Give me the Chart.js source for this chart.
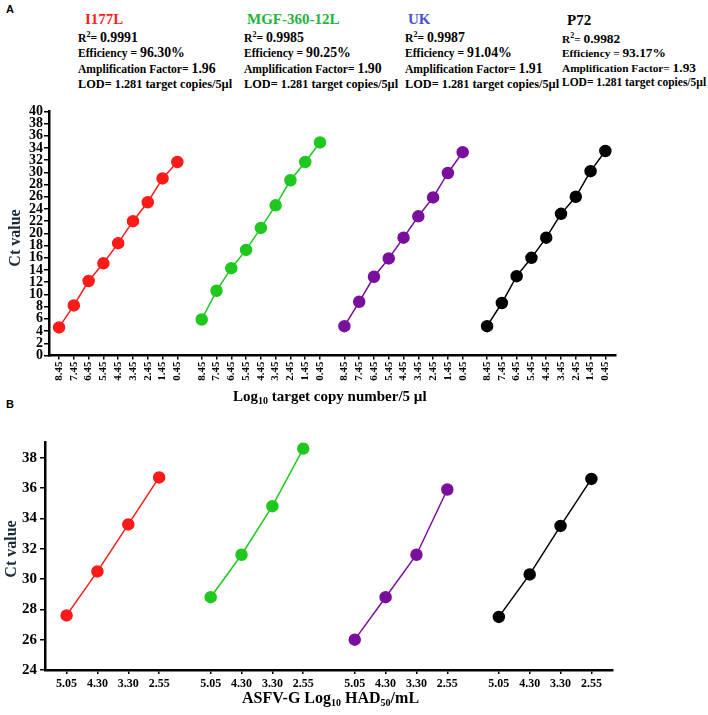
<!DOCTYPE html>
<html>
<head>
<meta charset="utf-8">
<script src="https://cdn.jsdelivr.net/npm/chart.js@4.4.1/dist/chart.umd.min.js"></script>
<style>
  body { margin: 0; background: #fff; }
  #page { position: relative; width: 708px; height: 715px; overflow: hidden; font-family: "Liberation Serif", "DejaVu Serif", serif; font-weight: bold; color: #000; }
  .panel-tag { position: absolute; font-family: "Liberation Sans", Arial, sans-serif; font-size: 11px; font-weight: bold; }
  .stats { position: absolute; line-height: 14.5px; font-size: 11.6px; white-space: nowrap; }
  .stats .name { font-size: 15px; display: block; margin-bottom: 0px; line-height: 17px; }
  .stats .big { font-size: 13.8px; }
  .stats .lod { font-size: 12.3px; }
  .stats sup { font-size: 8px; }
  .axis-title { position: absolute; font-size: 15px; white-space: nowrap; }
  .axis-title sub { font-size: 10px; vertical-align: -3px; }
  .ytitle { position: absolute; width: 70px; height: 18px; line-height: 18px; text-align: center; font-size: 16px; white-space: nowrap; transform: rotate(-90deg); color: #1a2a3a; }
  canvas { position: absolute; left: 0; }
</style>
</head>
<body>
<div id="page">
  <div class="panel-tag" style="left:6px; top:3px;">A</div>
  <div class="panel-tag" style="left:6px; top:398px;">B</div>

  <div class="stats" style="left:78px; top:11px;">
    <span class="name" style="color:#ff1f1f; margin-left:7px;">I177L</span>
    R<sup>2</sup>= <span class="big">0.9991</span><br>
    Efficiency = <span class="big">96.30%</span><br>
    Amplification Factor= <span class="big">1.96</span><br>
    <span class="lod">LOD= 1.281 target copies/5µl</span>
  </div>
  <div class="stats" style="left:244px; top:11px;">
    <span class="name" style="color:#22b43c; margin-left:3px;">MGF-360-12L</span>
    R<sup>2</sup>= <span class="big">0.9985</span><br>
    Efficiency = <span class="big">90.25%</span><br>
    Amplification Factor= <span class="big">1.90</span><br>
    <span class="lod">LOD= 1.281 target copies/5µl</span>
  </div>
  <div class="stats" style="left:405px; top:11px;">
    <span class="name" style="color:#4b4fd0; margin-left:3px;">UK</span>
    R<sup>2</sup>= <span class="big">0.9987</span><br>
    Efficiency = <span class="big">91.04%</span><br>
    Amplification Factor= <span class="big">1.91</span><br>
    <span class="lod">LOD= 1.281 target copies/5µl</span>
  </div>
  <div class="stats" style="left:562px; top:12px; font-size:11.3px;">
    <span class="name" style="margin-left:5px;">P72</span>
    R<sup>2</sup>= <span class="big" style="font-size:13.4px">0.9982</span><br>
    Efficiency = <span class="big" style="font-size:13.4px">93.17%</span><br>
    Amplification Factor= <span class="big" style="font-size:13.4px">1.93</span><br>
    <span class="lod" style="font-size:11.5px">LOD= 1.281 target copies/5µl</span>
  </div>

  <canvas id="chartA" style="top:100px;" width="708" height="315"></canvas>
  <canvas id="chartB" style="top:430px;" width="708" height="285"></canvas>

  <div class="ytitle" style="left:-20px; top:229px;">Ct value</div>
  <div class="ytitle" style="left:-24px; top:540px;">Ct value</div>
  <div class="axis-title" style="left:233px; top:388px;">Log<sub>10</sub> target copy number/5 µl</div>
  <div class="axis-title" style="left:242px; top:689px; font-size:16px;">ASFV-G Log<sub>10</sub> HAD<sub>50</sub>/mL</div>
</div>

<script>
// Panel A: dilution labels (same for each assay)
const labelsA = ["8.45", "7.45", "6.45", "5.45", "4.45", "3.45", "2.45", "1.45", "0.45"];
const i177lA = [4.6, 8.2, 12.2, 15.1, 18.4, 22.0, 25.1, 29.0, 31.7];
const mgfA = [5.9, 10.6, 14.3, 17.3, 20.9, 24.6, 28.7, 31.7, 34.9];
const ukA = [4.8, 8.8, 12.9, 15.9, 19.3, 22.8, 25.9, 29.9, 33.3];
const p72A = [4.8, 8.6, 13.0, 16.0, 19.3, 23.2, 26.0, 30.2, 33.5];

// Panel B: ASFV-G dilutions
const labelsB = ["5.05", "4.30", "3.30", "2.55"];
const i177lB = [27.6, 30.5, 33.6, 36.7];
const mgfB = [28.8, 31.6, 34.8, 38.6];
const ukB = [26.0, 28.8, 31.6, 35.9];
const p72B = [27.5, 30.3, 33.5, 36.6];

const colors = ["#ff1a1a", "#1fc81f", "#7a0f9e", "#000000"];
const fontTick = { family: "'Liberation Serif', serif", weight: "bold" };

// spread the four assays along one x axis, with a gap between groups
function groupData(values, group, step) {
  return values.map((v, i) => ({ x: group * step + i, y: v }));
}

function makeDatasets(series, step) {
  return series.map((vals, g) => ({
    data: groupData(vals, g, step),
    borderColor: colors[g],
    backgroundColor: colors[g],
    pointBackgroundColor: colors[g],
    pointBorderColor: colors[g],
    pointRadius: 5.5,
    borderWidth: 1.5,
    showLine: true,
    tension: 0,
  }));
}

const stepA = 9.65;
const stepB = 4.67;

new Chart(document.getElementById("chartA"), {
  type: "scatter",
  data: { datasets: makeDatasets([i177lA, mgfA, ukA, p72A], stepA) },
  options: {
    responsive: false,
    animation: false,
    layout: { padding: { left: 0, top: 11.3, right: 92, bottom: 0 } },
    plugins: { legend: { display: false }, tooltip: { enabled: false } },
    scales: {
      x: {
        type: "linear",
        min: -0.68,
        max: 3 * stepA + 8 + 0.72,
        afterBuildTicks: function (scale) {
          const ticks = [];
          for (let g = 0; g < 4; g++) {
            labelsA.forEach((l, i) => ticks.push({ value: g * stepA + i }));
          }
          scale.ticks = ticks;
        },
        afterFit: function (scale) { scale.height = 59.5; },
        ticks: {
          autoSkip: false,
          minRotation: 90,
          maxRotation: 90,
          color: "#000",
          padding: 2,
          font: Object.assign({ size: 11 }, fontTick),
          callback: function (value, index) { return labelsA[index % labelsA.length]; },
        },
        grid: { drawOnChartArea: false, tickLength: 4, color: "#000", lineWidth: 1.5 },
        border: { color: "#000", width: 2.5 },
      },
      y: {
        min: 0,
        max: 40,
        afterFit: function (scale) { scale.width = 49; },
        ticks: {
          stepSize: 2,
          autoSkip: false,
          color: "#000",
          padding: 1,
          font: Object.assign({ size: 14 }, fontTick),
        },
        grid: { drawOnChartArea: false, tickLength: 5, color: "#000", lineWidth: 1.5 },
        border: { color: "#000", width: 2.5 },
      },
    },
  },
});

new Chart(document.getElementById("chartB"), {
  type: "scatter",
  data: { datasets: makeDatasets([i177lB, mgfB, ukB, p72B], stepB) },
  options: {
    responsive: false,
    animation: false,
    layout: { padding: { left: 0, top: 12.5, right: 95, bottom: 0 } },
    plugins: { legend: { display: false }, tooltip: { enabled: false } },
    scales: {
      x: {
        type: "linear",
        min: -0.7,
        max: 3 * stepB + 3 + 0.7,
        afterBuildTicks: function (scale) {
          const ticks = [];
          for (let g = 0; g < 4; g++) {
            labelsB.forEach((l, i) => ticks.push({ value: g * stepB + i }));
          }
          scale.ticks = ticks;
        },
        afterFit: function (scale) { scale.height = 45; },
        ticks: {
          autoSkip: false,
          maxRotation: 0,
          color: "#000",
          padding: 3,
          font: Object.assign({ size: 12 }, fontTick),
          callback: function (value, index) { return labelsB[index % labelsB.length]; },
        },
        grid: { drawOnChartArea: false, tickLength: 4, color: "#000", lineWidth: 1.5 },
        border: { color: "#000", width: 2.5 },
      },
      y: {
        min: 24,
        max: 39,
        afterFit: function (scale) { scale.width = 45; },
        afterBuildTicks: function (scale) {
          scale.ticks = [24, 26, 28, 30, 32, 34, 36, 38].map((v) => ({ value: v }));
        },
        ticks: {
          autoSkip: false,
          color: "#000",
          padding: 3,
          font: Object.assign({ size: 15 }, fontTick),
        },
        grid: { drawOnChartArea: false, tickLength: 5, color: "#000", lineWidth: 1.5 },
        border: { color: "#000", width: 2.5 },
      },
    },
  },
});
</script>
</body>
</html>
